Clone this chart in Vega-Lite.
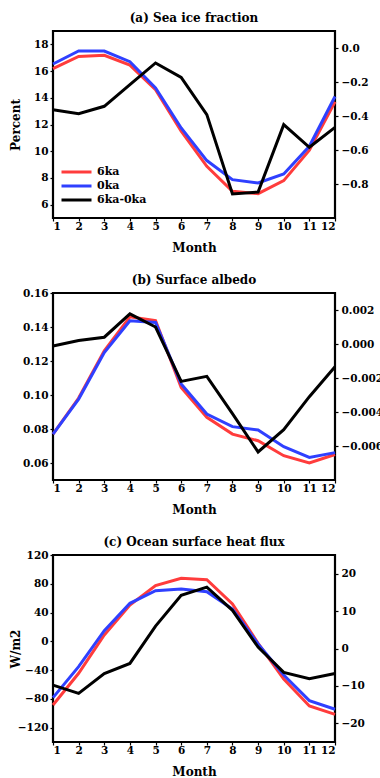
{
  "$schema": "https://vega.github.io/schema/vega-lite/v6.json",
  "background": "white",
  "padding": {"left": 7, "top": 10, "right": 0, "bottom": 0},
  "config": {
    "font": "DejaVu Serif",
    "view": {"stroke": "black", "strokeWidth": 2.2},
    "axis": {
      "labelFont": "DejaVu Serif", "labelFontWeight": "bold", "labelFontSize": 10.5, "labelColor": "black",
      "titleFont": "DejaVu Serif", "titleFontWeight": "bold", "titleFontSize": 12, "titleColor": "black",
      "tickColor": "black", "tickWidth": 1.2, "tickSize": 3, "domain": false, "grid": false, "labelPadding": 2
    },
    "axisX": {"labelPadding": 0, "titlePadding": 11},
    "axisLeft": {"minExtent": 27, "maxExtent": 27, "titlePadding": 4},
    "axisRight": {"labelPadding": 3},
    "title": {"font": "DejaVu Serif", "fontWeight": "bold", "fontSize": 12, "color": "black", "offset": 6, "frame": "group"},
    "legend": {"labelFont": "DejaVu Serif", "labelFontWeight": "bold", "labelFontSize": 11, "labelColor": "black"}
  },
  "data": {"values": [
    {"panel": "a", "series": "6ka", "month": 1, "value": 16.18},
    {"panel": "a", "series": "6ka", "month": 2, "value": 17.1},
    {"panel": "a", "series": "6ka", "month": 3, "value": 17.18},
    {"panel": "a", "series": "6ka", "month": 4, "value": 16.45},
    {"panel": "a", "series": "6ka", "month": 5, "value": 14.6},
    {"panel": "a", "series": "6ka", "month": 6, "value": 11.5},
    {"panel": "a", "series": "6ka", "month": 7, "value": 8.87},
    {"panel": "a", "series": "6ka", "month": 8, "value": 7.0},
    {"panel": "a", "series": "6ka", "month": 9, "value": 6.82},
    {"panel": "a", "series": "6ka", "month": 10, "value": 7.8},
    {"panel": "a", "series": "6ka", "month": 11, "value": 10.07},
    {"panel": "a", "series": "6ka", "month": 12, "value": 13.7},
    {"panel": "a", "series": "0ka", "month": 1, "value": 16.53},
    {"panel": "a", "series": "0ka", "month": 2, "value": 17.5},
    {"panel": "a", "series": "0ka", "month": 3, "value": 17.5},
    {"panel": "a", "series": "0ka", "month": 4, "value": 16.7},
    {"panel": "a", "series": "0ka", "month": 5, "value": 14.73},
    {"panel": "a", "series": "0ka", "month": 6, "value": 11.74},
    {"panel": "a", "series": "0ka", "month": 7, "value": 9.3},
    {"panel": "a", "series": "0ka", "month": 8, "value": 7.87},
    {"panel": "a", "series": "0ka", "month": 9, "value": 7.62},
    {"panel": "a", "series": "0ka", "month": 10, "value": 8.3},
    {"panel": "a", "series": "0ka", "month": 11, "value": 10.37},
    {"panel": "a", "series": "0ka", "month": 12, "value": 14.1},
    {"panel": "a", "series": "6ka-0ka", "month": 1, "value": -0.363},
    {"panel": "a", "series": "6ka-0ka", "month": 2, "value": -0.386},
    {"panel": "a", "series": "6ka-0ka", "month": 3, "value": -0.343},
    {"panel": "a", "series": "6ka-0ka", "month": 4, "value": -0.216},
    {"panel": "a", "series": "6ka-0ka", "month": 5, "value": -0.088},
    {"panel": "a", "series": "6ka-0ka", "month": 6, "value": -0.173},
    {"panel": "a", "series": "6ka-0ka", "month": 7, "value": -0.392},
    {"panel": "a", "series": "6ka-0ka", "month": 8, "value": -0.859},
    {"panel": "a", "series": "6ka-0ka", "month": 9, "value": -0.847},
    {"panel": "a", "series": "6ka-0ka", "month": 10, "value": -0.451},
    {"panel": "a", "series": "6ka-0ka", "month": 11, "value": -0.584},
    {"panel": "a", "series": "6ka-0ka", "month": 12, "value": -0.467},
    {"panel": "b", "series": "6ka", "month": 1, "value": 0.077},
    {"panel": "b", "series": "6ka", "month": 2, "value": 0.0982},
    {"panel": "b", "series": "6ka", "month": 3, "value": 0.126},
    {"panel": "b", "series": "6ka", "month": 4, "value": 0.146},
    {"panel": "b", "series": "6ka", "month": 5, "value": 0.1437},
    {"panel": "b", "series": "6ka", "month": 6, "value": 0.1045},
    {"panel": "b", "series": "6ka", "month": 7, "value": 0.0869},
    {"panel": "b", "series": "6ka", "month": 8, "value": 0.077},
    {"panel": "b", "series": "6ka", "month": 9, "value": 0.0731},
    {"panel": "b", "series": "6ka", "month": 10, "value": 0.0643},
    {"panel": "b", "series": "6ka", "month": 11, "value": 0.0600},
    {"panel": "b", "series": "6ka", "month": 12, "value": 0.065},
    {"panel": "b", "series": "0ka", "month": 1, "value": 0.077},
    {"panel": "b", "series": "0ka", "month": 2, "value": 0.0976},
    {"panel": "b", "series": "0ka", "month": 3, "value": 0.125},
    {"panel": "b", "series": "0ka", "month": 4, "value": 0.1437},
    {"panel": "b", "series": "0ka", "month": 5, "value": 0.1427},
    {"panel": "b", "series": "0ka", "month": 6, "value": 0.1065},
    {"panel": "b", "series": "0ka", "month": 7, "value": 0.0888},
    {"panel": "b", "series": "0ka", "month": 8, "value": 0.0814},
    {"panel": "b", "series": "0ka", "month": 9, "value": 0.0794},
    {"panel": "b", "series": "0ka", "month": 10, "value": 0.0696},
    {"panel": "b", "series": "0ka", "month": 11, "value": 0.0633},
    {"panel": "b", "series": "0ka", "month": 12, "value": 0.0661},
    {"panel": "b", "series": "6ka-0ka", "month": 1, "value": -0.00012},
    {"panel": "b", "series": "6ka-0ka", "month": 2, "value": 0.0002},
    {"panel": "b", "series": "6ka-0ka", "month": 3, "value": 0.0004},
    {"panel": "b", "series": "6ka-0ka", "month": 4, "value": 0.00177},
    {"panel": "b", "series": "6ka-0ka", "month": 5, "value": 0.001},
    {"panel": "b", "series": "6ka-0ka", "month": 6, "value": -0.0022},
    {"panel": "b", "series": "6ka-0ka", "month": 7, "value": -0.0019},
    {"panel": "b", "series": "6ka-0ka", "month": 8, "value": -0.0041},
    {"panel": "b", "series": "6ka-0ka", "month": 9, "value": -0.00635},
    {"panel": "b", "series": "6ka-0ka", "month": 10, "value": -0.00504},
    {"panel": "b", "series": "6ka-0ka", "month": 11, "value": -0.0031},
    {"panel": "b", "series": "6ka-0ka", "month": 12, "value": -0.00134},
    {"panel": "c", "series": "6ka", "month": 1, "value": -88.5},
    {"panel": "c", "series": "6ka", "month": 2, "value": -44.5},
    {"panel": "c", "series": "6ka", "month": 3, "value": 8.8},
    {"panel": "c", "series": "6ka", "month": 4, "value": 50.5},
    {"panel": "c", "series": "6ka", "month": 5, "value": 77.4},
    {"panel": "c", "series": "6ka", "month": 6, "value": 87.6},
    {"panel": "c", "series": "6ka", "month": 7, "value": 85.7},
    {"panel": "c", "series": "6ka", "month": 8, "value": 51.9},
    {"panel": "c", "series": "6ka", "month": 9, "value": -2.8},
    {"panel": "c", "series": "6ka", "month": 10, "value": -52.4},
    {"panel": "c", "series": "6ka", "month": 11, "value": -89.9},
    {"panel": "c", "series": "6ka", "month": 12, "value": -101.5},
    {"panel": "c", "series": "0ka", "month": 1, "value": -78.3},
    {"panel": "c", "series": "0ka", "month": 2, "value": -35.2},
    {"panel": "c", "series": "0ka", "month": 3, "value": 14.8},
    {"panel": "c", "series": "0ka", "month": 4, "value": 52.8},
    {"panel": "c", "series": "0ka", "month": 5, "value": 70.4},
    {"panel": "c", "series": "0ka", "month": 6, "value": 72.7},
    {"panel": "c", "series": "0ka", "month": 7, "value": 69.0},
    {"panel": "c", "series": "0ka", "month": 8, "value": 44.9},
    {"panel": "c", "series": "0ka", "month": 9, "value": -3.7},
    {"panel": "c", "series": "0ka", "month": 10, "value": -46.8},
    {"panel": "c", "series": "0ka", "month": 11, "value": -82.5},
    {"panel": "c", "series": "0ka", "month": 12, "value": -94.5},
    {"panel": "c", "series": "6ka-0ka", "month": 1, "value": -9.8},
    {"panel": "c", "series": "6ka-0ka", "month": 2, "value": -12.0},
    {"panel": "c", "series": "6ka-0ka", "month": 3, "value": -6.7},
    {"panel": "c", "series": "6ka-0ka", "month": 4, "value": -4.0},
    {"panel": "c", "series": "6ka-0ka", "month": 5, "value": 6.0},
    {"panel": "c", "series": "6ka-0ka", "month": 6, "value": 14.2},
    {"panel": "c", "series": "6ka-0ka", "month": 7, "value": 16.4},
    {"panel": "c", "series": "6ka-0ka", "month": 8, "value": 10.2},
    {"panel": "c", "series": "6ka-0ka", "month": 9, "value": 0.4},
    {"panel": "c", "series": "6ka-0ka", "month": 10, "value": -6.4},
    {"panel": "c", "series": "6ka-0ka", "month": 11, "value": -8.1},
    {"panel": "c", "series": "6ka-0ka", "month": 12, "value": -6.7}
  ]},
  "bounds": "flush",
  "spacing": 75,
  "resolve": {"scale": {"color": "independent"}, "legend": {"color": "independent"}},
  "vconcat": [
    {
      "title": {"text": "(a) Sea ice fraction", "offset": 6},
      "width": 282, "height": 187,
      "transform": [{"filter": "datum.panel == 'a'"}],
      "encoding": {
        "x": {"field": "month", "type": "quantitative", "scale": {"domain": [1, 12], "nice": false}, "axis": {"values": [1,2,3,4,5,6,7,8,9,10,11,12], "title": "Month"}}
      },
      "layer": [
        {
          "transform": [{"filter": "datum.series != '6ka-0ka'"}],
          "mark": {"type": "line", "strokeWidth": 3},
          "encoding": {
            "y": {"field": "value", "type": "quantitative", "scale": {"domain": [5, 19], "nice": false, "zero": false}, "axis": {"values": [6,8,10,12,14,16,18], "title": "Percent", "orient": "left"}},
            "color": {"field": "series", "type": "nominal", "scale": {"domain": ["6ka", "0ka", "6ka-0ka"], "range": ["#ff3c3c", "#2f40ff", "#000000"]},
              "legend": {"title": null, "orient": "none", "legendX": 7, "legendY": 134, "symbolType": "stroke", "symbolSize": 900, "symbolStrokeWidth": 3, "clipHeight": 14, "rowPadding": 0, "padding": 0, "labelOffset": 4}}
          }
        },
        {
          "layer": [
            {"mark": {"type": "rule", "color": "black", "strokeWidth": 1}, "encoding": {"y": {"datum": 0, "type": "quantitative"}}},
            {
              "transform": [{"filter": "datum.series == '6ka-0ka'"}],
              "mark": {"type": "line", "strokeWidth": 3},
              "encoding": {
                "y": {"field": "value", "type": "quantitative", "scale": {"domain": [-1.0, 0.1], "nice": false, "zero": false}, "axis": {"values": [0, -0.2, -0.4, -0.6, -0.8], "format": ".1f", "title": null, "orient": "right"}},
                "color": {"field": "series", "type": "nominal"}
              }
            }
          ]
        }
      ],
      "resolve": {"scale": {"y": "independent"}}
    },
    {
      "title": {"text": "(b) Surface albedo", "offset": 1},
      "width": 282, "height": 187,
      "transform": [{"filter": "datum.panel == 'b'"}],
      "encoding": {
        "x": {"field": "month", "type": "quantitative", "scale": {"domain": [1, 12], "nice": false}, "axis": {"values": [1,2,3,4,5,6,7,8,9,10,11,12], "title": "Month"}}
      },
      "layer": [
        {
          "transform": [{"filter": "datum.series != '6ka-0ka'"}],
          "mark": {"type": "line", "strokeWidth": 3},
          "encoding": {
            "y": {"field": "value", "type": "quantitative", "scale": {"domain": [0.05, 0.16], "nice": false, "zero": false}, "axis": {"values": [0.06,0.08,0.10,0.12,0.14,0.16], "format": ".2f", "title": null, "orient": "left"}},
            "color": {"field": "series", "type": "nominal", "scale": {"domain": ["6ka", "0ka", "6ka-0ka"], "range": ["#ff3c3c", "#2f40ff", "#000000"]}, "legend": null}
          }
        },
        {
          "layer": [
            {"mark": {"type": "rule", "color": "#808080", "strokeWidth": 1.5}, "encoding": {"y": {"datum": 0, "type": "quantitative"}}},
            {
              "transform": [{"filter": "datum.series == '6ka-0ka'"}],
              "mark": {"type": "line", "strokeWidth": 3},
              "encoding": {
                "y": {"field": "value", "type": "quantitative", "scale": {"domain": [-0.008, 0.003], "nice": false, "zero": false}, "axis": {"values": [0.002, 0, -0.002, -0.004, -0.006], "format": ".3f", "title": null, "orient": "right"}},
                "color": {"field": "series", "type": "nominal", "legend": null}
              }
            }
          ]
        }
      ],
      "resolve": {"scale": {"y": "independent"}}
    },
    {
      "title": {"text": "(c) Ocean surface heat flux", "offset": 1},
      "width": 282, "height": 187,
      "transform": [{"filter": "datum.panel == 'c'"}],
      "encoding": {
        "x": {"field": "month", "type": "quantitative", "scale": {"domain": [1, 12], "nice": false}, "axis": {"values": [1,2,3,4,5,6,7,8,9,10,11,12], "title": "Month"}}
      },
      "layer": [
        {
          "transform": [{"filter": "datum.series != '6ka-0ka'"}],
          "mark": {"type": "line", "strokeWidth": 3},
          "encoding": {
            "y": {"field": "value", "type": "quantitative", "scale": {"domain": [-140, 120], "nice": false, "zero": false}, "axis": {"values": [-120,-80,-40,0,40,80,120], "title": "W/m2", "orient": "left"}},
            "color": {"field": "series", "type": "nominal", "scale": {"domain": ["6ka", "0ka", "6ka-0ka"], "range": ["#ff3c3c", "#2f40ff", "#000000"]}, "legend": null}
          }
        },
        {
          "layer": [
            {"mark": {"type": "rule", "color": "#808080", "strokeWidth": 1.5}, "encoding": {"y": {"datum": 0, "type": "quantitative"}}},
            {
              "transform": [{"filter": "datum.series == '6ka-0ka'"}],
              "mark": {"type": "line", "strokeWidth": 3},
              "encoding": {
                "y": {"field": "value", "type": "quantitative", "scale": {"domain": [-25, 25], "nice": false, "zero": false}, "axis": {"values": [20, 10, 0, -10, -20], "title": null, "orient": "right"}},
                "color": {"field": "series", "type": "nominal", "legend": null}
              }
            }
          ]
        }
      ],
      "resolve": {"scale": {"y": "independent"}}
    }
  ]
}
